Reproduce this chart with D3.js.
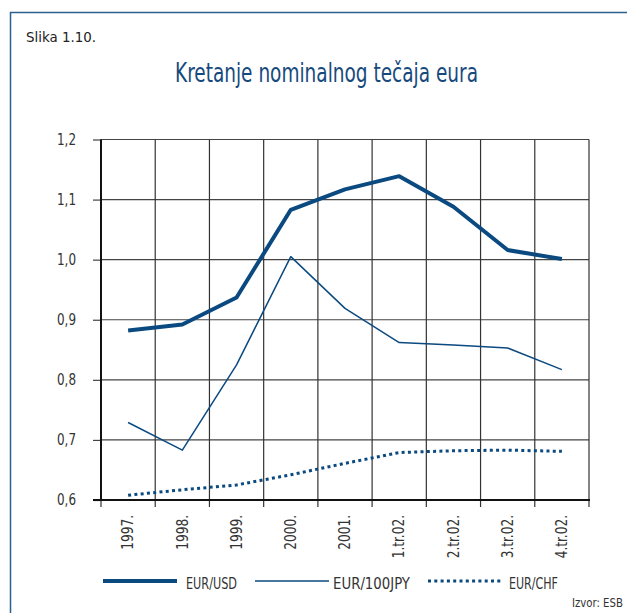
<!DOCTYPE html>
<html>
<head>
<meta charset="utf-8">
<title>Kretanje nominalnog tečaja eura</title>
<style>
body { margin: 0; background: #fff; }
text { font-family: "Liberation Sans Narrow", "DejaVu Sans Condensed", "Arial Narrow", sans-serif; }
</style>
</head>
<body>
<div id="chart"></div>
<script src="https://d3js.org/d3.v7.min.js"></script>
<script>
const width = 627;
const height = 613;

// data
const categories = ["1997.", "1998.", "1999.", "2000.", "2001.", "1.tr.02.", "2.tr.02.", "3.tr.02.", "4.tr.02."];
const eurUsd  = [0.882, 0.892, 0.937, 1.083, 1.117, 1.139, 1.088, 1.016, 1.001];
const eur100Jpy = [0.729, 0.683, 0.825, 1.005, 0.919, 0.862, 0.858, 0.853, 0.817];
const eurChf  = [0.608, 0.617, 0.625, 0.642, 0.661, 0.679, 0.682, 0.683, 0.681];
const yTicks = [0.6, 0.7, 0.8, 0.9, 1.0, 1.1, 1.2];
const seriesNames = ["EUR/USD", "EUR/100JPY", "EUR/CHF"];

const blue = "#0b4a80";

// squeeze text horizontally to mimic the narrow font of the original
function squeeze(sel, k) {
  sel.each(function() {
    const w = this.getComputedTextLength();
    d3.select(this).attr("textLength", w * k).attr("lengthAdjust", "spacingAndGlyphs");
  });
}
function fitTo(sel, target) {
  sel.attr("textLength", target).attr("lengthAdjust", "spacingAndGlyphs");
}

const svg = d3.select("#chart")
  .append("svg")
  .attr("width", width)
  .attr("height", height);

// outer frame
svg.append("rect")
  .attr("x", 10.5)
  .attr("y", 12.5)
  .attr("width", 640)
  .attr("height", 640)
  .attr("fill", "none")
  .attr("stroke", "#2a5f8f")
  .attr("stroke-width", 1.5);

svg.append("text")
  .attr("x", 26)
  .attr("y", 42)
  .attr("font-size", 14)
  .attr("fill", "#222")
  .text("Slika 1.10.")
  .call(fitTo, 70);

svg.append("text")
  .attr("x", 175)
  .attr("y", 82)
  .attr("font-size", 26)
  .attr("fill", "#174a7c")
  .text("Kretanje nominalnog tečaja eura")
  .call(fitTo, 303);

const x = d3.scaleBand()
  .domain(categories)
  .range([101, 589])
  .padding(0);

const y = d3.scaleLinear()
  .domain([0.6, 1.2])
  .range([500, 139.5]);

// horizontal grid + left ticks
const yAxis = svg.append("g")
  .attr("transform", "translate(101,0)")
  .call(d3.axisLeft(y).tickValues(yTicks).tickSize(8).tickFormat(d => d3.format(".1f")(d).replace(".", ",")));
yAxis.select(".domain").remove();
yAxis.selectAll("line").attr("stroke", "#444").attr("stroke-width", 1.2);
yAxis.selectAll("text")
  .attr("x", -25)
  .attr("font-size", 15)
  .attr("fill", "#333")
  .style("font-family", null)
  .call(fitTo, 19);
svg.append("g")
  .selectAll("line")
  .data(yTicks)
  .join("line")
  .attr("x1", 101)
  .attr("x2", 589)
  .attr("y1", d => y(d))
  .attr("y2", d => y(d))
  .attr("stroke", "#444")
  .attr("stroke-width", 1.2);

// vertical grid at category boundaries, with ticks below
const bounds = categories.map(c => x(c)).concat([x.range()[1]]);
svg.append("g")
  .selectAll("line")
  .data(bounds)
  .join("line")
  .attr("x1", d => d)
  .attr("x2", d => d)
  .attr("y1", y(1.2))
  .attr("y2", 507)
  .attr("stroke", "#333")
  .attr("stroke-width", 1.2);

// axis lines
svg.append("line")
  .attr("x1", 101).attr("x2", 101)
  .attr("y1", y(1.2)).attr("y2", 501)
  .attr("stroke", "#111").attr("stroke-width", 2);
svg.append("line")
  .attr("x1", 93).attr("x2", 590)
  .attr("y1", 500).attr("y2", 500)
  .attr("stroke", "#111").attr("stroke-width", 2);

// category labels
const xAxis = svg.append("g")
  .attr("transform", "translate(0,500)")
  .call(d3.axisBottom(x).tickSize(0));
xAxis.select(".domain").remove();
xAxis.selectAll("text")
  .attr("transform", "rotate(-90)")
  .attr("x", -15)
  .attr("y", 0)
  .attr("dy", "0.35em")
  .attr("text-anchor", "end")
  .attr("font-size", 15)
  .attr("fill", "#333")
  .style("font-family", null)
  .call(squeeze, 0.9);

const line = d3.line()
  .x((d, i) => x(categories[i]) + x.bandwidth() / 2)
  .y(d => y(d));

const styles = [
  { data: eurUsd, width: 4, dash: null },
  { data: eur100Jpy, width: 1.5, dash: null },
  { data: eurChf, width: 3, dash: "3,3.3" }
];

styles.forEach(s => {
  svg.append("path")
    .datum(s.data)
    .attr("d", line)
    .attr("fill", "none")
    .attr("stroke", blue)
    .attr("stroke-width", s.width)
    .attr("stroke-dasharray", s.dash)
    .attr("stroke-linejoin", "round");
});

// legend
const legendPos = [
  { x1: 103, x2: 177, tx: 186, w: 51 },
  { x1: 255, x2: 329, tx: 333, w: 77 },
  { x1: 428, x2: 502, tx: 509, w: 49 }
];
legendPos.forEach((p, i) => {
  svg.append("line")
    .attr("x1", p.x1).attr("x2", p.x2)
    .attr("y1", 581).attr("y2", 581)
    .attr("stroke", blue)
    .attr("stroke-width", styles[i].width)
    .attr("stroke-dasharray", styles[i].dash);
  svg.append("text")
    .attr("x", p.tx)
    .attr("y", 589)
    .attr("font-size", 15)
    .attr("fill", "#333")
    .text(seriesNames[i])
    .call(fitTo, p.w);
});

// source note: scaled with a transform so it stays inside the right edge
const src = svg.append("text")
  .attr("font-size", 13)
  .attr("fill", "#333")
  .text("Izvor: ESB");
const srcW = src.node().getComputedTextLength();
src.attr("transform", `translate(572,607) scale(${51 / srcW},1)`);
</script>
</body>
</html>
